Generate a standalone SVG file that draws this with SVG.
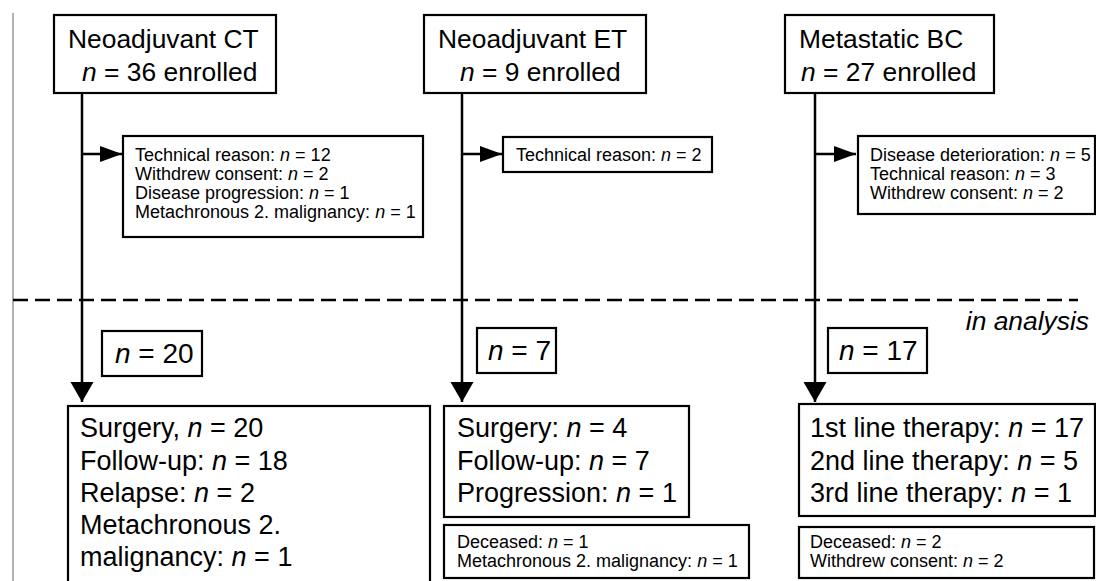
<svg xmlns="http://www.w3.org/2000/svg" width="1096" height="581" viewBox="0 0 1096 581">
<style>
.box{fill:#fff;stroke:#000;stroke-width:2.2}
.big{font-family:"Liberation Sans",Arial,sans-serif;font-size:26.4px;fill:#000}
.out{font-family:"Liberation Sans",Arial,sans-serif;font-size:27px;fill:#000}
.num{font-family:"Liberation Sans",Arial,sans-serif;font-size:28px;fill:#000}
.sm{font-family:"Liberation Sans",Arial,sans-serif;font-size:18px;fill:#000}
.i{font-style:italic}
.ln{stroke:#000;stroke-width:2.5;fill:none}
</style>
<defs>
<marker id="ahs" markerUnits="userSpaceOnUse" markerWidth="23" markerHeight="18" refX="22" refY="9" orient="auto" viewBox="0 0 23 18">
<path d="M0,1 L22,9 L0,17 z" fill="#000"/>
</marker>
<marker id="ahd" markerUnits="userSpaceOnUse" markerWidth="21" markerHeight="24" refX="20" refY="12" orient="auto" viewBox="0 0 21 24">
<path d="M0,0.5 L20,12 L0,23.5 z" fill="#000"/>
</marker>
</defs>
<rect width="1096" height="581" fill="#fff"/>
<line x1="13" y1="13" x2="13" y2="581" stroke="#666" stroke-width="1"/>
<g id="connectors">
<line class="ln" x1="13" y1="300" x2="1078" y2="300" stroke-dasharray="15 7"/>
<line class="ln" x1="82" y1="93" x2="82" y2="402" marker-end="url(#ahd)"/>
<line class="ln" x1="82" y1="154" x2="122" y2="154" marker-end="url(#ahs)"/>
<line class="ln" x1="462" y1="93" x2="462" y2="402" marker-end="url(#ahd)"/>
<line class="ln" x1="462" y1="154" x2="502" y2="154" marker-end="url(#ahs)"/>
<line class="ln" x1="815" y1="93" x2="815" y2="402" marker-end="url(#ahd)"/>
<line class="ln" x1="815" y1="154" x2="856" y2="154" marker-end="url(#ahs)"/>
</g>
<text class="big i" x="1089" y="330" text-anchor="end">in analysis</text>
<g id="ct-enrolled">
<rect class="box" x="54" y="15" width="222" height="78"/>
<text class="big" x="68" y="48">Neoadjuvant CT</text>
<text class="big" x="82" y="81"><tspan class="i">n</tspan> = 36 enrolled</text>
</g>
<g id="et-enrolled">
<rect class="box" x="424" y="15" width="222" height="78"/>
<text class="big" x="438" y="48">Neoadjuvant ET</text>
<text class="big" x="460" y="81"><tspan class="i">n</tspan> = 9 enrolled</text>
</g>
<g id="mbc-enrolled">
<rect class="box" x="785" y="15" width="209" height="78"/>
<text class="big" x="799" y="48">Metastatic BC</text>
<text class="big" x="801" y="81"><tspan class="i">n</tspan> = 27 enrolled</text>
</g>
<g id="ct-excluded">
<rect class="box" x="123" y="136" width="300" height="101"/>
<text class="sm" x="135" y="161">Technical reason: <tspan class="i">n</tspan> = 12</text>
<text class="sm" x="135" y="180">Withdrew consent: <tspan class="i">n</tspan> = 2</text>
<text class="sm" x="135" y="199">Disease progression: <tspan class="i">n</tspan> = 1</text>
<text class="sm" x="135" y="218">Metachronous 2. malignancy: <tspan class="i">n</tspan> = 1</text>
</g>
<g id="et-excluded">
<rect class="box" x="503" y="137" width="209" height="35"/>
<text class="sm" x="516" y="161">Technical reason: <tspan class="i">n</tspan> = 2</text>
</g>
<g id="mbc-excluded">
<rect class="box" x="858" y="136" width="237" height="78"/>
<text class="sm" x="870" y="161">Disease deterioration: <tspan class="i">n</tspan> = 5</text>
<text class="sm" x="870" y="180">Technical reason: <tspan class="i">n</tspan> = 3</text>
<text class="sm" x="870" y="199">Withdrew consent: <tspan class="i">n</tspan> = 2</text>
</g>
<g id="ct-analysed">
<rect class="box" x="102" y="331" width="100" height="45"/>
<text class="num" x="115" y="363"><tspan class="i">n</tspan> = 20</text>
</g>
<g id="et-analysed">
<rect class="box" x="477" y="328" width="79" height="45"/>
<text class="num" x="488" y="360"><tspan class="i">n</tspan> = 7</text>
</g>
<g id="mbc-analysed">
<rect class="box" x="828" y="328" width="99" height="45"/>
<text class="num" x="839" y="360"><tspan class="i">n</tspan> = 17</text>
</g>
<g id="ct-outcome">
<rect class="box" x="68" y="406" width="362" height="190"/>
<text class="out" x="80" y="437">Surgery, <tspan class="i">n</tspan> = 20</text>
<text class="out" x="80" y="470">Follow-up: <tspan class="i">n</tspan> = 18</text>
<text class="out" x="80" y="502">Relapse: <tspan class="i">n</tspan> = 2</text>
<text class="out" x="80" y="534">Metachronous 2.</text>
<text class="out" x="80" y="566">malignancy: <tspan class="i">n</tspan> = 1</text>
</g>
<g id="et-outcome">
<rect class="box" x="444" y="406" width="245" height="111"/>
<text class="out" x="457" y="437">Surgery: <tspan class="i">n</tspan> = 4</text>
<text class="out" x="457" y="470">Follow-up: <tspan class="i">n</tspan> = 7</text>
<text class="out" x="457" y="502">Progression: <tspan class="i">n</tspan> = 1</text>
</g>
<g id="et-events">
<rect class="box" x="444" y="525" width="305" height="53"/>
<text class="sm" x="457" y="548">Deceased: <tspan class="i">n</tspan> = 1</text>
<text class="sm" x="457" y="567">Metachronous 2. malignancy: <tspan class="i">n</tspan> = 1</text>
</g>
<g id="mbc-outcome">
<rect class="box" x="799" y="404" width="296" height="112"/>
<text class="out" x="810" y="437">1st line therapy: <tspan class="i">n</tspan> = 17</text>
<text class="out" x="810" y="470">2nd line therapy: <tspan class="i">n</tspan> = 5</text>
<text class="out" x="810" y="502">3rd line therapy: <tspan class="i">n</tspan> = 1</text>
</g>
<g id="mbc-events">
<rect class="box" x="799" y="527" width="295" height="51"/>
<text class="sm" x="810" y="548">Deceased: <tspan class="i">n</tspan> = 2</text>
<text class="sm" x="810" y="567">Withdrew consent: <tspan class="i">n</tspan> = 2</text>
</g>
</svg>
